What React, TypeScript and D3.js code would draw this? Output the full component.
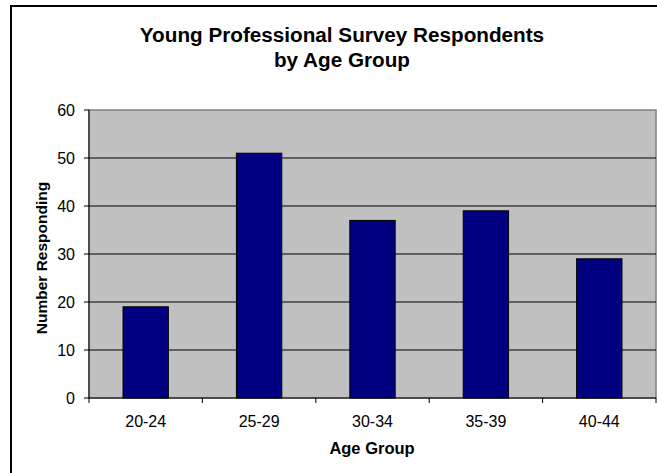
import React from "react";
import * as d3 from "d3";

const categories = ["20-24", "25-29", "30-34", "35-39", "40-44"];
const responses = [19, 51, 37, 39, 29];
const yTicks = [0, 10, 20, 30, 40, 50, 60];

const titleLines = ["Young Professional Survey Respondents", "by Age Group"];
const xTitle = "Age Group";
const yTitle = "Number Responding";

const W = 657;
const H = 473;
const plot = { left: 89, right: 656, top: 110, bottom: 398 };
const font = "'Liberation Sans', Arial, sans-serif";

export default function App() {
  const x = d3
    .scaleBand<string>()
    .domain(categories)
    .range([plot.left, plot.right])
    .paddingInner(0.6)
    .paddingOuter(0.3);
  const band = d3.scaleBand<string>().domain(categories).range([plot.left, plot.right]);
  const y = d3.scaleLinear().domain([0, 60]).range([plot.bottom, plot.top]);

  const boundaries = [...categories.map((c) => band(c)!), plot.right];

  return (
    <svg
      width={W}
      height={H}
      style={{ position: "absolute", left: 0, top: 0, background: "#fff" }}
      fontFamily={font}
    >
      {/* outer chart frame */}
      <rect x={11} y={6} width={W} height={H} fill="#fff" stroke="#000" strokeWidth={2} />

      {/* title */}
      {titleLines.map((t, i) => (
        <text
          key={t}
          x={342}
          y={42 + i * 24.5}
          textAnchor="middle"
          fontSize={20.7}
          fontWeight="bold"
          fill="#000"
        >
          {t}
        </text>
      ))}

      {/* plot background */}
      <rect
        x={plot.left}
        y={plot.top}
        width={plot.right - plot.left}
        height={plot.bottom - plot.top}
        fill="#c0c0c0"
        stroke="#808080"
        strokeWidth={1.5}
      />

      {/* gridlines */}
      {yTicks
        .filter((t) => t > 0 && t < 60)
        .map((t) => (
          <line
            key={t}
            x1={plot.left}
            x2={plot.right}
            y1={y(t)}
            y2={y(t)}
            stroke="#000"
            strokeWidth={1}
          />
        ))}

      {/* bars */}
      {categories.map((c, i) => (
        <rect
          key={c}
          x={x(c)}
          y={y(responses[i])}
          width={x.bandwidth()}
          height={y(0) - y(responses[i])}
          fill="#000080"
          stroke="#000"
          strokeWidth={1}
        />
      ))}

      {/* y axis */}
      <line x1={plot.left} x2={plot.left} y1={plot.top} y2={plot.bottom} stroke="#000" strokeWidth={1} />
      {yTicks.map((t) => (
        <g key={t}>
          <line x1={plot.left - 5} x2={plot.left} y1={y(t)} y2={y(t)} stroke="#000" strokeWidth={1} />
          <text
            x={75}
            y={y(t)}
            dy="0.35em"
            textAnchor="end"
            fontSize={16}
            fill="#000"
          >
            {t}
          </text>
        </g>
      ))}

      {/* x axis */}
      <line x1={plot.left} x2={plot.right} y1={plot.bottom} y2={plot.bottom} stroke="#000" strokeWidth={1} />
      {boundaries.map((b, i) => (
        <line key={i} x1={b} x2={b} y1={plot.bottom} y2={plot.bottom + 5} stroke="#000" strokeWidth={1} />
      ))}
      {categories.map((c) => (
        <text
          key={c}
          x={band(c)! + band.bandwidth() / 2}
          y={427}
          textAnchor="middle"
          fontSize={16}
          fill="#000"
        >
          {c}
        </text>
      ))}

      {/* axis titles */}
      <text x={372} y={454} textAnchor="middle" fontSize={16.5} fontWeight="bold" fill="#000">
        {xTitle}
      </text>
      <text
        transform={`translate(47, 258) rotate(-90)`}
        textAnchor="middle"
        fontSize={15.5}
        fontWeight="bold"
        fill="#000"
      >
        {yTitle}
      </text>
    </svg>
  );
}
